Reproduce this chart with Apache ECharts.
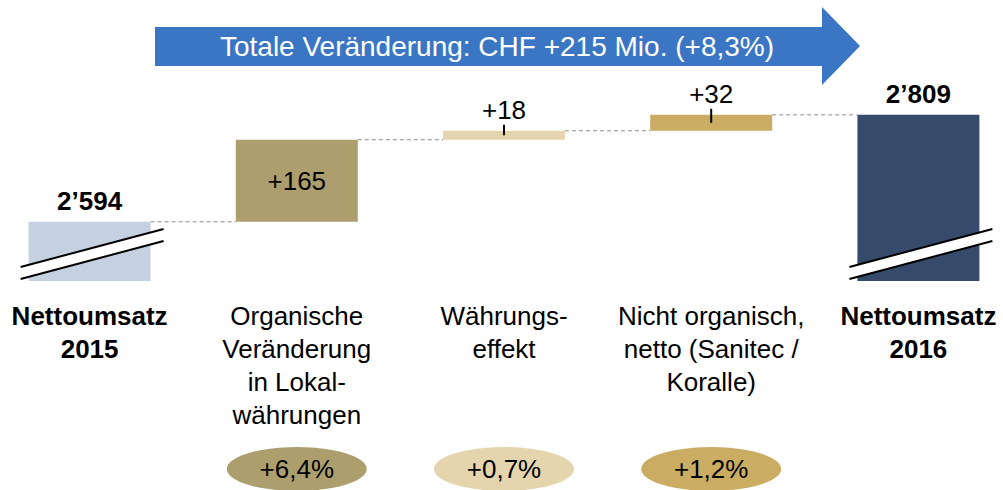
<!DOCTYPE html>
<html>
<head>
<meta charset="utf-8">
<script src="https://cdn.jsdelivr.net/npm/echarts@6/dist/echarts.min.js"></script>
<style>
html,body{margin:0;padding:0;background:#fff;overflow:hidden;width:1003px;height:490px;}
#chart{position:absolute;left:-14px;top:0;width:1036px;height:490px;}
</style>
</head>
<body>
<div id="chart"></div>
<script>
// ---- data ----
const categories = ['Nettoumsatz\n2015', 'Organische\nVeränderung\nin Lokal-\nwährungen', 'Währungs-\neffekt', 'Nicht organisch,\nnetto (Sanitec /\nKoralle)', 'Nettoumsatz\n2016'];
const startValue = 2594;
const deltas = [165, 18, 32];
const endValue = 2809;
const growthPct = ['+6,4%', '+0,7%', '+1,2%'];
const totalLabel = 'Totale Veränderung: CHF +215 Mio. (+8,3%)';
const totalCategories = [0, 4];

// ---- styles ----
const barColors = ['#c5d0e1', '#ad9f6d', '#e5d5ae', '#caac63', '#364b6b'];
const FONT = '"Liberation Sans", Arial, sans-serif';
const Y_MIN = 2475, Y_MAX = 2875;
const BAR_W = 122;
const OX = 14; // container offset

// ---- derived ----
const fmtTotal = v => { const s = String(v); return s.slice(0, s.length - 3) + '\u2019' + s.slice(-3); };
const lows = [], highs = [], baseVals = [], shownVals = [], labels = [];
let run = startValue;
lows.push(null); highs.push(startValue); baseVals.push(0); shownVals.push(startValue); labels.push(fmtTotal(startValue));
deltas.forEach(d => {
  lows.push(run); highs.push(run + d); baseVals.push(run); shownVals.push(d); labels.push('+' + d);
  run += d;
});
lows.push(null); highs.push(endValue); baseVals.push(0); shownVals.push(endValue); labels.push(fmtTotal(endValue));

const connectorData = highs.slice(0, -1).map((h, i) => [i, h]);
const breakData = totalCategories.map(i => [i, Y_MIN]);
const tickData = [];
deltas.forEach((d, k) => { if (d < 100) tickData.push([k + 1, highs[k + 1], lows[k + 1]]); });
const badgeData = growthPct.map((p, k) => [k + 1, Y_MIN]);

const chart = echarts.init(document.getElementById('chart'), null, {renderer: 'svg'});

const option = {
  animation: false,
  backgroundColor: '#ffffff',
  textStyle: {fontFamily: FONT},
  grid: {left: 0, right: 0, top: 82, bottom: 209, containLabel: false},
  xAxis: {
    type: 'category',
    data: categories.map((c, i) => totalCategories.includes(i) ? {value: c, textStyle: {fontWeight: 'bold'}} : c),
    axisLine: {show: false}, axisTick: {show: false},
    axisLabel: {interval: 0, margin: 18, fontSize: 26, lineHeight: 33, color: '#000', fontFamily: FONT, hideOverlap: false}
  },
  yAxis: {type: 'value', min: Y_MIN, max: Y_MAX, show: false, splitLine: {show: false}},
  graphic: [
    {type: 'polygon', z: 10, shape: {points: [[155 + OX, 27], [822 + OX, 27], [822 + OX, 7], [860 + OX, 46], [822 + OX, 85], [822 + OX, 66], [155 + OX, 66]]}, style: {fill: '#3b76c4'}},
    {type: 'text', z: 11, x: 497 + OX, y: 46, style: {text: totalLabel, fill: '#fff', font: '28px ' + FONT, align: 'center', verticalAlign: 'middle'}}
  ],
  series: [
    {
      type: 'bar', stack: 'w', barWidth: BAR_W, silent: true,
      itemStyle: {color: 'rgba(0,0,0,0)'},
      data: baseVals
    },
    {
      type: 'bar', stack: 'w', barWidth: BAR_W, z: 3,
      data: shownVals.map((v, i) => ({
        value: v,
        itemStyle: {color: barColors[i]},
        label: {
          show: true,
          position: (i > 0 && i < shownVals.length - 1 && deltas[i - 1] >= 100) ? 'inside' : 'top',
          distance: 8,
          formatter: labels[i],
          fontSize: 26, color: '#000', fontFamily: FONT,
          fontWeight: totalCategories.includes(i) ? 'bold' : 'normal',
          textBorderWidth: 0
        }
      }))
    },
    {
      type: 'custom', z: 4, silent: true,
      data: connectorData,
      renderItem: (params, api) => {
        const i = api.value(0);
        const p0 = api.coord([i, api.value(1)]);
        const p1 = api.coord([i + 1, api.value(1)]);
        return {type: 'line', shape: {x1: p0[0] + BAR_W / 2, y1: p0[1], x2: p1[0] - BAR_W / 2, y2: p1[1]},
          style: {stroke: '#8c8c8c', lineWidth: 1, lineDash: [4, 3]}};
      }
    },
    {
      type: 'custom', z: 6, silent: true,
      data: breakData,
      renderItem: (params, api) => {
        const p = api.coord([api.value(0), api.value(1)]);
        const xl = p[0] - 69, xr = p[0] + 74, yb = p[1];
        const top = [[xl, yb - 14], [xr, yb - 52]];
        const bot = [[xl, yb - 2], [xr, yb - 40]];
        return {type: 'group', children: [
          {type: 'polygon', shape: {points: [top[0], top[1], bot[1], bot[0]]}, style: {fill: '#fff'}},
          {type: 'line', shape: {x1: top[0][0], y1: top[0][1], x2: top[1][0], y2: top[1][1]}, style: {stroke: '#000', lineWidth: 2}},
          {type: 'line', shape: {x1: bot[0][0], y1: bot[0][1], x2: bot[1][0], y2: bot[1][1]}, style: {stroke: '#000', lineWidth: 2}}
        ]};
      }
    },
    {
      type: 'custom', z: 6, silent: true,
      data: tickData,
      renderItem: (params, api) => {
        const pt = api.coord([api.value(0), api.value(1)]);
        const pb = api.coord([api.value(0), api.value(2)]);
        return {type: 'line', shape: {x1: pt[0], y1: pt[1] - 6, x2: pt[0], y2: (pt[1] + pb[1]) / 2},
          style: {stroke: '#000', lineWidth: 2}};
      }
    },
    {
      type: 'custom', z: 6, silent: true, clip: false,
      data: badgeData,
      renderItem: (params, api) => {
        const i = api.value(0);
        const p = api.coord([i, api.value(1)]);
        const cy = 469;
        return {type: 'group', children: [
          {type: 'circle', x: p[0], y: cy, scaleY: 22 / 70, shape: {cx: 0, cy: 0, r: 70}, style: {fill: barColors[i]}},
          {type: 'text', x: p[0], y: cy, style: {text: growthPct[params.dataIndex], fill: '#000', font: '26px ' + FONT, align: 'center', verticalAlign: 'middle'}}
        ]};
      }
    }
  ]
};
chart.setOption(option);
</script>
</body>
</html>
